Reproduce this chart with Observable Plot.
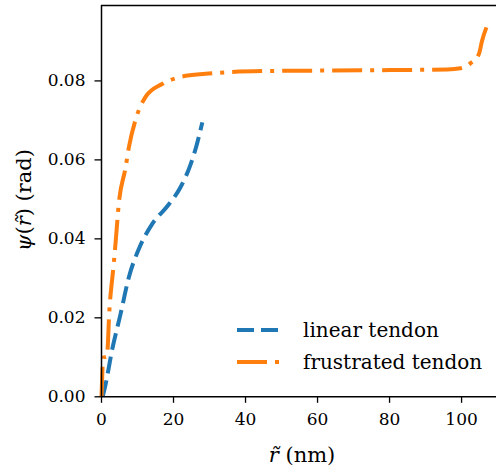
<!DOCTYPE html>
<html><head><meta charset="utf-8">
<script src="https://cdn.jsdelivr.net/npm/d3@7"></script>
<script src="https://cdn.jsdelivr.net/npm/@observablehq/plot@0.6"></script>
<style>body{margin:0;background:#fff}</style>
</head><body><div id="chart"></div>
<script>
const seriesNames = ["linear tendon", "frustrated tendon"];
const linearR   = [0.3, 1.1, 2.9, 5.3, 7.6, 10.4, 14.1, 18.5, 21.9, 24.6, 26.2, 28.0];
const linearPsi = [0.0, 0.003, 0.0117, 0.021, 0.0303, 0.0375, 0.0438, 0.0485, 0.053, 0.0585, 0.063, 0.0695];
const frustR   = [0, 0.5, 1.5, 2.2, 3.4, 4.0, 4.8, 6.7, 7.6, 9.4, 12.2, 16.8, 21.5, 28.9, 35, 45, 59, 75, 86.8, 96, 99.7, 102.5, 104.8, 105.7, 107.3];
const frustPsi = [0, 0.0099, 0.0102, 0.022, 0.0337, 0.040, 0.0489, 0.0581, 0.0632, 0.070, 0.0759, 0.0792, 0.0809, 0.0818, 0.0822, 0.0825, 0.0826, 0.0827, 0.0828, 0.0829, 0.0832, 0.0845, 0.0868, 0.0902, 0.0945];
const xTicks = [0, 20, 40, 60, 80, 100];
const yTicks = [0, 0.02, 0.04, 0.06, 0.08];
const xDomain = [0, 109.7];
const yDomain = [0, 0.0991];

const linearData = linearR.map((r, i) => ({r, psi: linearPsi[i], s: seriesNames[0]}));
const frustData = frustR.map((r, i) => ({r, psi: frustPsi[i], s: seriesNames[1]}));
const FF = "DejaVu Serif";

const chart = Plot.plot({
  width: 496, height: 470,
  marginLeft: 101, marginTop: 5, marginRight: 0, marginBottom: 73.7,
  style: {fontFamily: FF, fontSize: "17px"},
  x: {domain: xDomain},
  y: {domain: yDomain},
  color: {domain: seriesNames, range: ["#1f77b4", "#ff7f0e"]},
  marks: [
    Plot.line(linearData, {x: "r", y: "psi", stroke: "s", strokeWidth: 4, strokeDasharray: "17,7", strokeLinecap: "butt", curve: "monotone-x"}),
    Plot.line(frustData, {x: "r", y: "psi", stroke: "s", strokeWidth: 4, strokeDasharray: "30,8,4,8", strokeLinecap: "butt", curve: "monotone-x"}),
    Plot.ruleX([xDomain[0]], {stroke: "#000", strokeWidth: 1.5}),
    Plot.ruleY([yDomain[0]], {stroke: "#000", strokeWidth: 1.5}),
    Plot.ruleY([yDomain[1]], {stroke: "#000", strokeWidth: 1.5}),
    Plot.axisX({ticks: xTicks, tickSize: 6.5, tickPadding: 10, label: null, tickFormat: d => String(d), fontSize: 17, fontFamily: FF, strokeWidth: 1.3, fill: "#000"}),
    Plot.axisY({ticks: yTicks, tickSize: 6.5, tickPadding: 9.5, label: null, tickFormat: d3.format(".2f"), fontSize: 17, fontFamily: FF, strokeWidth: 1.3, fill: "#000"})
  ]
});
document.getElementById("chart").appendChild(chart);

const svg = d3.select(chart);
svg.append("text").attr("x", 302).attr("y", 462).attr("text-anchor", "middle")
  .attr("font-family", FF).attr("font-size", 21).attr("fill", "#000")
  .html('<tspan font-style="italic">r\u0303</tspan> (nm)');
svg.append("text").attr("transform", "translate(31,200) rotate(-90)").attr("text-anchor", "middle")
  .attr("font-family", FF).attr("font-size", 21).attr("fill", "#000")
  .html('<tspan font-style="italic">\u03c8</tspan>(<tspan font-style="italic">r\u0303</tspan>) (rad)');

const legendY = [330, 362];
const dashes = ["17,7", "30,8,4,8"];
const cols = ["#1f77b4", "#ff7f0e"];
seriesNames.forEach((name, i) => {
  svg.append("line").attr("x1", 237).attr("x2", 280).attr("y1", legendY[i]).attr("y2", legendY[i])
    .attr("stroke", cols[i]).attr("stroke-width", 4).attr("stroke-dasharray", dashes[i]);
  svg.append("text").attr("x", 303).attr("y", legendY[i] + 7).attr("text-anchor", "start")
    .attr("font-family", FF).attr("font-size", 20).attr("fill", "#000")
    .text(name);
});
</script>
</body></html>
